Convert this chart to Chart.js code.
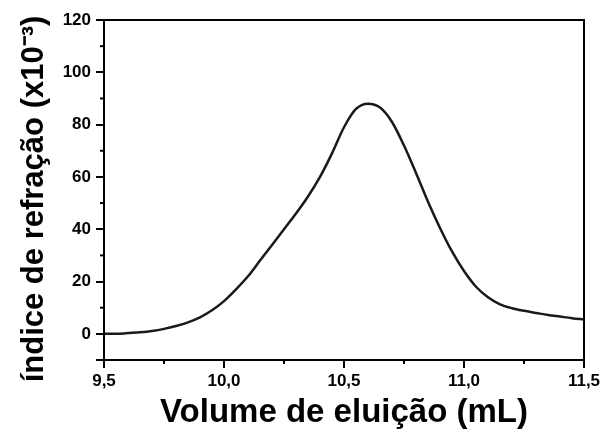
<!DOCTYPE html>
<html>
<head>
  <title>Volume de eluição</title>
  <script src="https://cdn.jsdelivr.net/npm/chart.js"></script>
  <style>
    body { margin: 0; background: #fff; }
  </style>
</head>
<body>
  <canvas id="chart" width="609" height="438"></canvas>

  <script>
    // elution volume (mL) and refractive index signal (x10^-3)
    const volumes = [9.50, 9.55, 9.60, 9.65, 9.70, 9.75, 9.80, 9.85, 9.90, 9.95,
                     10.00, 10.05, 10.10, 10.15, 10.20, 10.25, 10.30, 10.35, 10.40, 10.45,
                     10.50, 10.55, 10.60, 10.65, 10.70, 10.75, 10.80, 10.85, 10.90, 10.95,
                     11.00, 11.05, 11.10, 11.15, 11.20, 11.25, 11.30, 11.35, 11.40, 11.45, 11.50];
    const signal = [0, 0, 0.3, 0.6, 1.1, 1.9, 3.0, 4.4, 6.3, 9.0,
                    12.5, 17.0, 22.0, 28.0, 34.0, 40.0, 46.0, 52.5, 60.0, 69.0,
                    79.0, 86.0, 88.0, 86.5, 81.0, 72.0, 61.5, 50.5, 40.5, 31.5,
                    24.0, 18.0, 14.0, 11.3, 9.8, 8.8, 8.0, 7.2, 6.6, 6.0, 5.5];

    const xTicks = [9.5, 10.0, 10.5, 11.0, 11.5];
    const xMinorTicks = [9.75, 10.25, 10.75, 11.25];
    const yTicks = [-10, 0, 20, 40, 60, 80, 100, 120];
    const yMinorTicks = [10, 30, 50, 70, 90, 110];

    const xTitle = 'Volume de eluição (mL)';
    const yTitle = 'índice de refração (x10⁻³)';

    const fontFamily = '"Liberation Sans", Arial, sans-serif';

    // frame, minor ticks and the y title (it is taller than the plot, so the
    // built-in axis title would squeeze it)
    const framePlugin = {
      id: 'frame',
      afterDraw(chart) {
        const ctx = chart.ctx;
        const a = chart.chartArea;
        const xs = chart.scales.x;
        const ys = chart.scales.y;
        ctx.save();
        ctx.strokeStyle = '#000';
        ctx.lineWidth = 2;
        ctx.strokeRect(a.left, a.top, a.right - a.left, a.bottom - a.top);
        xMinorTicks.forEach(v => {
          const px = xs.getPixelForValue(v);
          ctx.beginPath();
          ctx.moveTo(px, a.bottom);
          ctx.lineTo(px, a.bottom + 4);
          ctx.stroke();
        });
        yMinorTicks.forEach(v => {
          const py = ys.getPixelForValue(v);
          ctx.beginPath();
          ctx.moveTo(a.left - 4, py);
          ctx.lineTo(a.left, py);
          ctx.stroke();
        });

        ctx.translate(34, (a.top + a.bottom) / 2 + 9);
        ctx.rotate(-Math.PI / 2);
        ctx.fillStyle = '#000';
        ctx.font = 'bold 31px ' + fontFamily;
        ctx.textAlign = 'center';
        ctx.textBaseline = 'middle';
        ctx.fillText(yTitle, 0, 0);
        ctx.restore();
      }
    };

    new Chart(document.getElementById('chart').getContext('2d'), {
      type: 'line',
      data: {
        datasets: [{
          data: volumes.map((v, i) => ({ x: v, y: signal[i] })),
          borderColor: '#1a1a1a',
          borderWidth: 2.5,
          pointRadius: 0,
          fill: false,
          cubicInterpolationMode: 'monotone'
        }]
      },
      options: {
        responsive: false,
        animation: false,
        layout: { padding: { top: 20, right: 25, left: 0, bottom: 0 } },
        plugins: { legend: { display: false }, tooltip: { enabled: false } },
        scales: {
          x: {
            type: 'linear',
            min: 9.5,
            max: 11.5,
            afterBuildTicks: s => { s.ticks = xTicks.map(v => ({ value: v })); },
            afterFit: s => { s.height = 78; },
            border: { color: '#000', width: 2 },
            grid: { drawOnChartArea: false, color: '#000', lineWidth: 2, tickLength: 8 },
            ticks: {
              color: '#000',
              padding: 3,
              maxRotation: 0,
              font: { family: fontFamily, size: 17, weight: 'bold' },
              callback: v => v.toFixed(1).replace('.', ',')
            },
            title: {
              display: true,
              text: xTitle,
              color: '#000',
              padding: { top: 0, bottom: 5 },
              font: { family: fontFamily, size: 33, weight: 'bold' }
            }
          },
          y: {
            min: -10,
            max: 120,
            afterBuildTicks: s => { s.ticks = yTicks.map(v => ({ value: v })); },
            afterFit: s => { s.width = 104; },
            border: { color: '#000', width: 2 },
            grid: { drawOnChartArea: false, color: '#000', lineWidth: 2, tickLength: 8 },
            ticks: {
              color: '#000',
              padding: 5,
              font: { family: fontFamily, size: 17, weight: 'bold' },
              callback: v => (v < 0 ? '' : String(v))
            },
            title: { display: false }
          }
        }
      },
      plugins: [framePlugin]
    });
  </script>
</body>
</html>
